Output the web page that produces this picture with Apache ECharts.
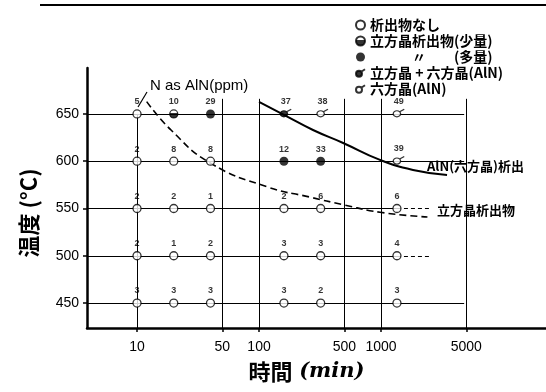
<!DOCTYPE html>
<html><head><meta charset="utf-8">
<script src="https://cdn.jsdelivr.net/npm/echarts@6/dist/echarts.min.js"></script>
<style>html,body{margin:0;padding:0;background:#fff}#c{width:546px;height:392px}</style>
</head><body><div id="c"></div>
<script>
// ---- data ----
const timesMin = [10, 20, 40, 160, 320, 1350];
const temps = [650, 600, 550, 500, 450];
const ppm650 = [5, 10, 29, 37, 38, 49];
const ppm600 = [2, 8, 8, 12, 33, 39];
const ppm550 = [2, 2, 1, 2, 6, 6];
const ppm500 = [2, 1, 2, 3, 3, 4];
const ppm450 = [3, 3, 3, 3, 2, 3];
const kind650 = ['none', 'few', 'many', 'mixed', 'hex', 'hex'];
const kind600 = ['none', 'none', 'none', 'many', 'many', 'hex'];
const kind550 = ['none', 'none', 'none', 'none', 'none', 'none'];
const kind500 = ['none', 'none', 'none', 'none', 'none', 'none'];
const kind450 = ['none', 'none', 'none', 'none', 'none', 'none'];
const xTicks = [10, 50, 100, 500, 1000, 5000];
const yTicks = [450, 500, 550, 600, 650];
const cubicTime = [12, 19, 40, 116, 262, 490, 980, 2400];
const cubicTemp = [663, 633, 598, 573, 562, 554, 546, 541];
const hexTime = [100, 160, 277, 489, 981, 1828, 3475];
const hexTemp = [662.7, 649, 633, 619.3, 601.4, 590.8, 585.5];
const guideTimes = [50, 100, 500, 1000, 5000];
const guideTop = 666;
const rowSolidEnd = [4800, 4800, 1350, 1350, 4800];
const rowDashEnd = [null, null, 2500, 2500, null];

// ---- build ----
const lg = Math.log10;
const X_MIN = 0.59, X_MAX = 4.352, Y_MIN = 423.6, Y_MAX = 698.6;
const ppmRows = [ppm650, ppm600, ppm550, ppm500, ppm450];
const kindRows = [kind650, kind600, kind550, kind500, kind450];

const names = {
  none: '析出物なし',
  few: '立方晶析出物(少量)',
  many: '立方晶析出物(多量)',
  mixed: '立方晶＋六方晶(AlN)',
  hex: '六方晶(AlN)'
};
const display = {
  '析出物なし': '析出物なし',
  '立方晶析出物(少量)': '立方晶析出物(少量)',
  '立方晶析出物(多量)': '　　　〃　　(多量)',
  '立方晶＋六方晶(AlN)': '立方晶 + 六方晶(AlN)',
  '六方晶(AlN)': '六方晶(AlN)'
};
const sigmaPath = 'path://M16 12 A6 6 0 1 1 4 12 A6 6 0 1 1 16 12 Z M14.5 8 L22 3';
const styles = {
  none: {symbol: 'circle', size: 8, item: {color: '#fff', borderColor: '#000', borderWidth: 1.3}},
  few: {symbol: 'circle', size: 8, item: {color: {type: 'linear', x: 0, y: 0, x2: 0, y2: 1,
        colorStops: [{offset: 0, color: '#fff'}, {offset: 0.42, color: '#fff'}, {offset: 0.42, color: '#000'}, {offset: 1, color: '#000'}]},
        borderColor: '#000', borderWidth: 1.3}},
  many: {symbol: 'circle', size: 9, item: {color: '#000', borderColor: '#000', borderWidth: 0}},
  mixed: {symbol: sigmaPath, size: [11, 9.2], offset: [1.8, -0.9], item: {color: '#000', borderColor: '#000', borderWidth: 1.2}},
  hex: {symbol: sigmaPath, size: [11, 9.2], offset: [1.8, -0.9], item: {color: '#fff', borderColor: '#000', borderWidth: 1.2}}
};

const kindData = {none: [], few: [], many: [], mixed: [], hex: []};
temps.forEach((T, r) => {
  timesMin.forEach((t, i) => {
    kindData[kindRows[r][i]].push([lg(t), T, ppmRows[r][i]]);
  });
});

const series = [];
// reference lines (grid of the original)
const mk = [];
temps.forEach((T, r) => {
  mk.push([{coord: [X_MIN, T]}, {coord: [lg(rowSolidEnd[r]), T]}]);
  if (rowDashEnd[r]) mk.push([{coord: [lg(rowSolidEnd[r]), T], lineStyle: {type: [4, 3]}}, {coord: [lg(rowDashEnd[r]), T]}]);
});
mk.push([{coord: [lg(timesMin[0]), temps[0]]}, {coord: [lg(timesMin[0]), Y_MIN]}]);
guideTimes.forEach(t => mk.push([{coord: [lg(t), guideTop]}, {coord: [lg(t), Y_MIN]}]));
series.push({
  type: 'line', data: [], silent: true, z: 1,
  markLine: {silent: true, symbol: 'none', animation: false, label: {show: false},
    lineStyle: {color: '#000', width: 1, type: 'solid'}, data: mk}
});
// curves
series.push({
  type: 'line', name: 'cubic', smooth: 0.5, showSymbol: false, silent: true, z: 2,
  data: cubicTime.map((t, i) => [lg(t), cubicTemp[i]]),
  lineStyle: {color: '#000', width: 1.6, type: [7, 4]}
});
series.push({
  type: 'line', name: 'hexcurve', smooth: 0.5, showSymbol: false, silent: true, z: 2,
  data: hexTime.map((t, i) => [lg(t), hexTemp[i]]),
  lineStyle: {color: '#000', width: 2}
});
// points
Object.keys(kindData).forEach(k => {
  const s = styles[k];
  series.push({
    type: 'scatter', name: names[k], z: 5,
    symbol: s.symbol, symbolSize: s.size, symbolOffset: s.offset || [0, 0], symbolKeepAspect: true,
    itemStyle: s.item,
    data: kindData[k],
    label: {show: true, position: 'top', distance: 3, fontSize: 9, fontWeight: 'bold',
      fontFamily: 'Liberation Sans', color: '#000', formatter: p => p.value[2]}
  });
});

const chart = echarts.init(document.getElementById('c'), null, {renderer: 'canvas'});
chart.setOption({
  animation: false,
  backgroundColor: '#fff',
  grid: {left: 87, right: 0, top: 68, bottom: 64},
  xAxis: {
    type: 'value', min: X_MIN, max: X_MAX,
    axisLine: {lineStyle: {color: '#000', width: 2.5}},
    axisTick: {show: true, customValues: xTicks.map(lg), length: 4, lineStyle: {color: '#000', width: 1.5}},
    axisLabel: {customValues: xTicks.map(lg), formatter: v => String(Math.round(Math.pow(10, v))),
      margin: 12, fontSize: 14, color: '#000', fontFamily: 'Liberation Sans'},
    splitLine: {show: false},
    name: '{a|時間}  {b|(min)}', nameLocation: 'middle', nameGap: 33,
    nameTextStyle: {padding: [0, 20, 0, 0], rich: {
      a: {fontSize: 22, fontWeight: 'bold', fontFamily: 'Noto Sans CJK JP', color: '#000'},
      b: {fontSize: 21, fontWeight: 'bold', fontStyle: 'italic', fontFamily: 'DejaVu Serif', color: '#000'}}}
  },
  yAxis: {
    type: 'value', min: Y_MIN, max: Y_MAX,
    axisLine: {show: true, lineStyle: {color: '#000', width: 2.5}},
    axisTick: {show: true, customValues: yTicks, length: 4, inside: false, lineStyle: {color: '#000', width: 1.5}},
    axisLabel: {customValues: yTicks, margin: 8, fontSize: 14, color: '#000', fontFamily: 'Liberation Sans'},
    splitLine: {show: false},
    name: '温度 (°C)', nameLocation: 'middle', nameRotate: 90, nameGap: 47,
    nameTextStyle: {fontSize: 22, fontWeight: 'bold', fontFamily: 'Noto Sans CJK JP', color: '#000', padding: [0, 30, 0, 0]}
  },
  legend: {
    orient: 'vertical', left: 350, top: 13, itemWidth: 9, itemHeight: 9, itemGap: 2,
    selectedMode: false,
    textStyle: {fontSize: 14, fontWeight: 'bold', fontFamily: 'Noto Sans CJK JP', color: '#000', lineHeight: 14},
    data: Object.keys(names).map(k => names[k]),
    formatter: n => display[n] || n
  },
  graphic: [
    {type: 'line', shape: {x1: 40, y1: 5, x2: 546, y2: 5}, style: {stroke: '#000', lineWidth: 2}},
    {type: 'line', shape: {x1: 147, y1: 92, x2: 138, y2: 107}, style: {stroke: '#000', lineWidth: 1.2}},
    {type: 'text', left: 150, top: 78, style: {text: 'N as AlN(ppm)', font: '15px "Liberation Sans"', fill: '#000'}},
    {type: 'text', left: 427, top: 160, style: {text: 'AlN(六方晶)析出', font: 'bold 13px "Noto Sans CJK JP"', fill: '#000'}},
    {type: 'text', left: 437, top: 204, style: {text: '立方晶析出物', font: 'bold 13px "Noto Sans CJK JP"', fill: '#000'}}
  ],
  series: series
});
</script>
</body></html>
